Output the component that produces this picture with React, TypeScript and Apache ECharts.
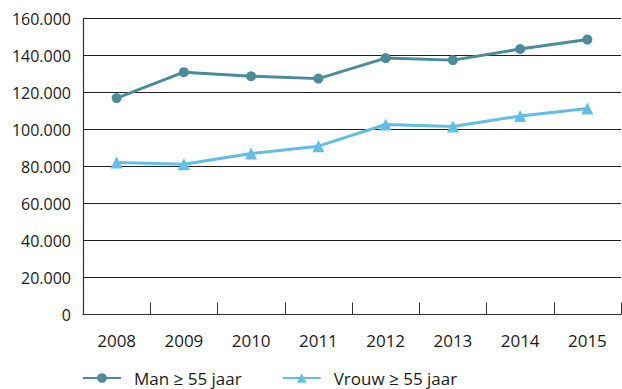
import React, { useEffect, useRef } from "react";
import * as echarts from "echarts";

const years = ["2008", "2009", "2010", "2011", "2012", "2013", "2014", "2015"];
const manValues = [117000, 131000, 128800, 127500, 138600, 137500, 143500, 148600];
const vrouwValues = [82100, 81200, 87000, 91000, 102700, 101600, 107300, 111300];
const seriesNames = ["Man ≥ 55 jaar", "Vrouw ≥ 55 jaar"];

const fmt = (v: number) => {
  if (v === 0) return "0";
  const s = String(Math.round(v));
  return s.replace(/\B(?=(\d{3})+(?!\d))/g, ".");
};

export default function App() {
  const ref = useRef<HTMLDivElement>(null);
  useEffect(() => {
    if (!ref.current) return;
    const chart = echarts.init(ref.current, undefined, { renderer: "svg" });
    const font = "'Open Sans', 'Noto Sans', sans-serif";
    chart.setOption({
      animation: false,
      textStyle: { fontFamily: font },
      grid: { left: 83, right: 1, top: 18.5, bottom: 74.5, containLabel: false },
      legend: {
        left: 82,
        top: 369,
        padding: 0,
        itemWidth: 38,
        itemHeight: 12,
        itemGap: 40,
        textStyle: {
          fontSize: 17,
          lineHeight: 18,
          color: "#1a1a1a",
          fontFamily: font,
          padding: [0, 0, 0, 8],
        },
        data: seriesNames,
      },
      xAxis: {
        type: "category",
        data: years,
        boundaryGap: true,
        axisLine: { lineStyle: { color: "#333", width: 1.2 } },
        axisTick: { show: true, inside: true, length: 12, lineStyle: { color: "#333" } },
        axisLabel: { fontSize: 17, color: "#1a1a1a", margin: 17, fontFamily: font },
        splitLine: { show: false },
      },
      yAxis: {
        type: "value",
        min: 0,
        max: 160000,
        interval: 20000,
        axisLine: { show: true, lineStyle: { color: "#333", width: 1.2 } },
        axisTick: { show: false },
        axisLabel: { fontSize: 16, color: "#1a1a1a", margin: 12, formatter: fmt, fontFamily: font },
        splitLine: { show: true, lineStyle: { color: "#222", width: 1.2 } },
      },
      series: [
        {
          name: seriesNames[0],
          type: "line",
          data: manValues,
          symbol: "circle",
          symbolSize: 10,
          color: "#4A8C9B",
          lineStyle: { width: 3, color: "#4A8C9B" },
          itemStyle: { color: "#4A8C9B" },
        },
        {
          name: seriesNames[1],
          type: "line",
          data: vrouwValues,
          symbol: "triangle",
          symbolSize: [12, 12],
          color: "#62BEE6",
          lineStyle: { width: 3, color: "#62BEE6" },
          itemStyle: { color: "#62BEE6" },
        },
      ],
    });
    return () => chart.dispose();
  }, []);
  return <div ref={ref} style={{ width: 622, height: 389, position: "absolute", left: 0, top: 0 }} />;
}
